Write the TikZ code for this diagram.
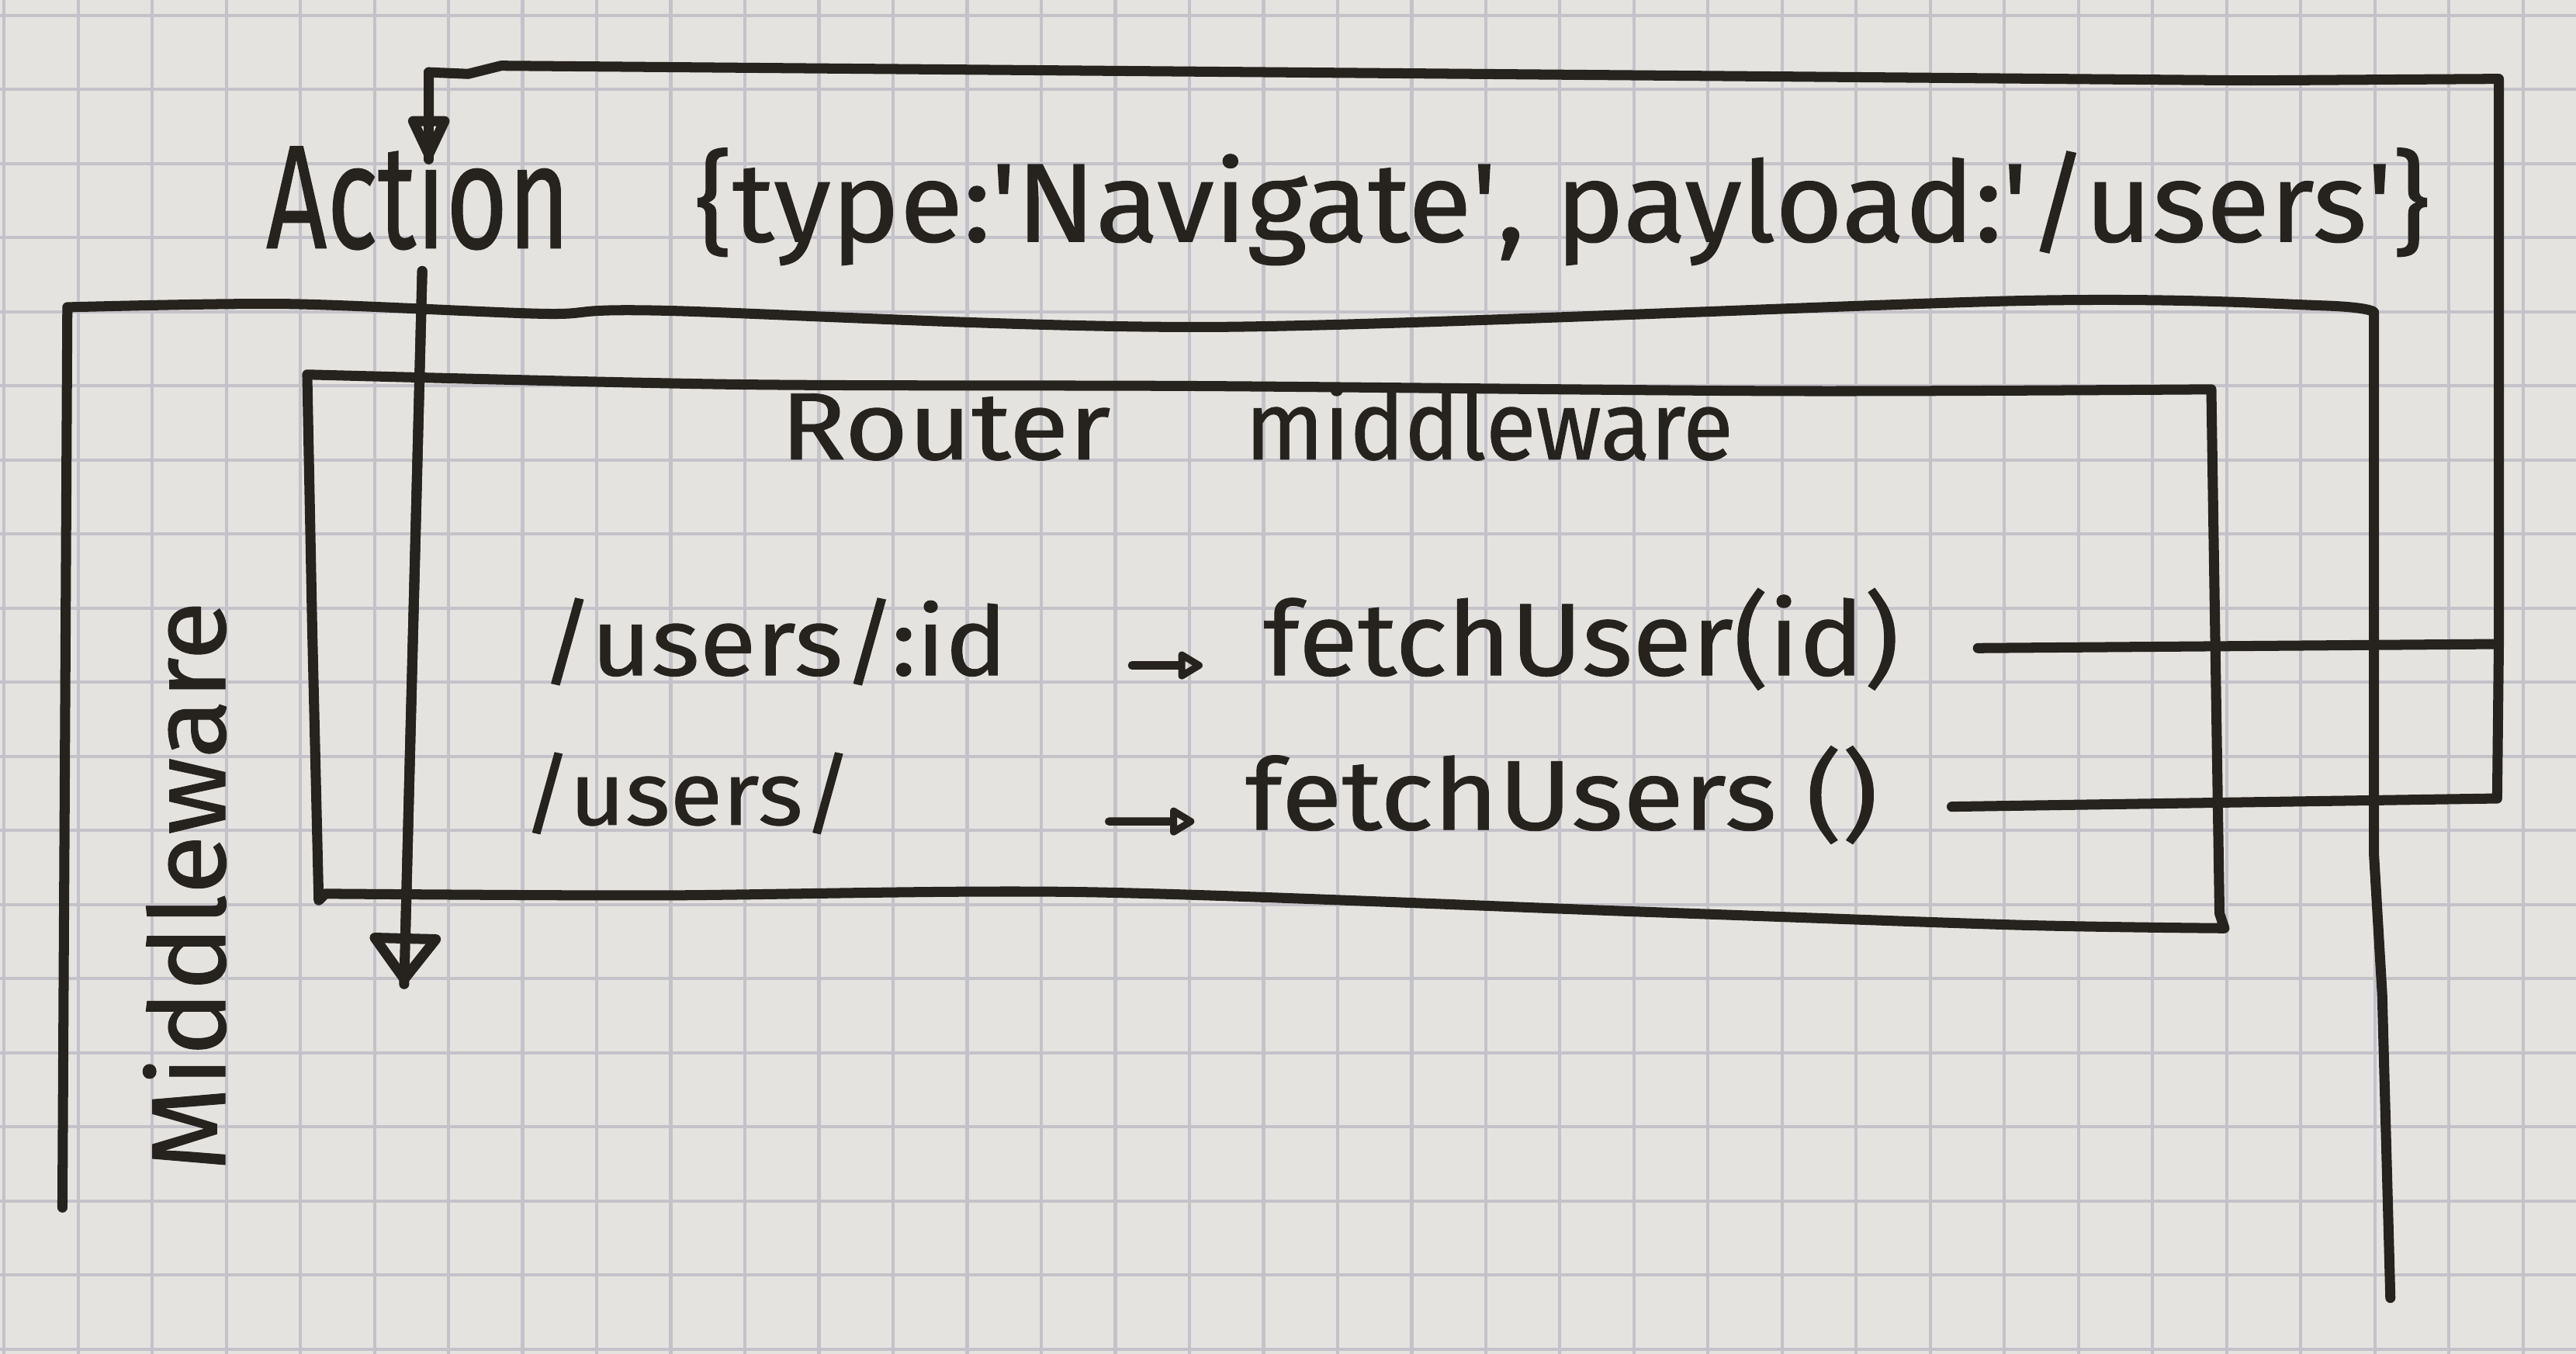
\documentclass[tikz,border=0pt]{standalone}
\usepackage{fontspec}
\setmainfont{Fira Sans}[FakeBold=0.7]
\usepackage{graphicx}
\usetikzlibrary{arrows.meta}
\definecolor{paper}{RGB}{229,227,223}
\definecolor{gridc}{RGB}{196,194,201}
\definecolor{ink}{RGB}{38,34,30}
\newcommand{\hw}[3]{\resizebox{#1cm}{#2cm}{#3}}
\newcommand{\sq}{\textquotesingle}

\begin{document}
\begin{tikzpicture}[x=0.02cm, y=-0.02cm,
  txt/.style={inner sep=0pt, outer sep=0pt, anchor=base west, text=ink},
  frame/.style={draw=ink, line width=3.5pt, line cap=round, line join=round},
  conn/.style={draw=ink, line width=3.5pt, line cap=round, line join=round},
  bigtip/.style={-{Triangle[open, round, length=0.62cm, width=0.54cm]}},
  downtip/.style={-{Triangle[open, round, length=0.66cm, width=0.96cm]}},
  small/.style={draw=ink, line width=2.8pt, line cap=round, -{Triangle[open, round, length=0.34cm, width=0.38cm]}},
  gridline/.style={draw=gridc, line width=1.1pt}
]
\useasboundingbox (0,0) rectangle (1568,824);
\fill[paper] (0,0) rectangle (1568,824);
\begin{scope}
  \clip (0,0) rectangle (1568,824);
  \foreach \k in {0,...,34} \draw[gridline] ({2.4+45.1*\k},0) -- ({2.4+45.1*\k},824);
  \foreach \k in {0,...,18} \draw[gridline] (0,{9.4+45.1*\k}) -- (1568,{9.4+45.1*\k});
\end{scope}

% texts
\node[txt] (act) at (162,151) {\hw{3.70}{1.40}{Action}};
\node[txt] (payload) at (423,147) {\hw{21.12}{1.14}{\{type:\sq Navigate\sq, payload:\sq/users\sq\}}};
\node[txt] (rtitle) at (475,279.6) {\hw{4.02}{0.80}{Router}\hspace{1.64cm}\hw{5.94}{0.92}{middleware}};
\node[txt] (r1) at (329,411) {\hw{5.68}{0.94}{/users/:id}};
\node[txt] (h1) at (769,411) {\hw{7.74}{1.06}{fetchUser(id)}};
\node[txt] (r2) at (318,502) {\hw{4.02}{0.88}{/users/}};
\node[txt] (h2) at (758,505) {\hw{7.70}{1.02}{fetchUsers ()}};
\node[txt, rotate=90] (mw) at (137,713) {\hw{6.94}{1.00}{Middleware}};

% outer Middleware frame (open at the bottom)
\draw[frame] (38,735) -- (41,187)
  -- plot[smooth, tension=0.5] coordinates {(41,187) (175,185) (331,191) (401,189) (742,199) (1233,183) (1414,186) (1445,190)}
  -- (1445,520) -- (1450,605) -- (1455,790);

% Router middleware box
\draw[frame] (194,548) -- (190,380) -- (187,228)
  -- plot[smooth, tension=0.5] coordinates {(187,228) (449,234) (734,235) (1086,238) (1346,237)}
  -- (1351,556) -- (1354,565)
  -- plot[smooth, tension=0.5] coordinates {(1354,565) (1228,563) (1000,555) (661,543) (400,545) (198,544)}
  -- cycle;

% route arrows
\draw[small] ([shift={(1.52cm,0.12cm)}]r1.base east) -- ([shift={(-0.74cm,0.12cm)}]h1.base west);
\draw[small] ([shift={(3.12cm,0.04cm)}]r2.base east) -- ([shift={(-0.62cm,0.10cm)}]h2.base west);

% feedback loop back to the action
\coordinate (j1) at (1521,392);
\coordinate (toptip) at (261,97);
\draw[conn] ([shift={(0.96cm,0.33cm)}]h1.base east) -- (j1);
\draw[conn, bigtip] ([shift={(0.90cm,0.28cm)}]h2.base east) -- (1520,486) -- (j1) -- (1521,48)
  -- (1370,49) -- (305,40) -- (285,45) -- (261,44) -- (toptip);
\draw[conn] (261,44) -- (toptip);

% action flowing down through the middleware
\coordinate (vtip) at (246,599);
\draw[conn] ([shift={(0.05cm,-0.28cm)}]act.base) -- (vtip);
\draw[conn, downtip] ([shift={(0.05cm,-0.28cm)}]act.base) -- (vtip);
\end{tikzpicture}
\end{document}
